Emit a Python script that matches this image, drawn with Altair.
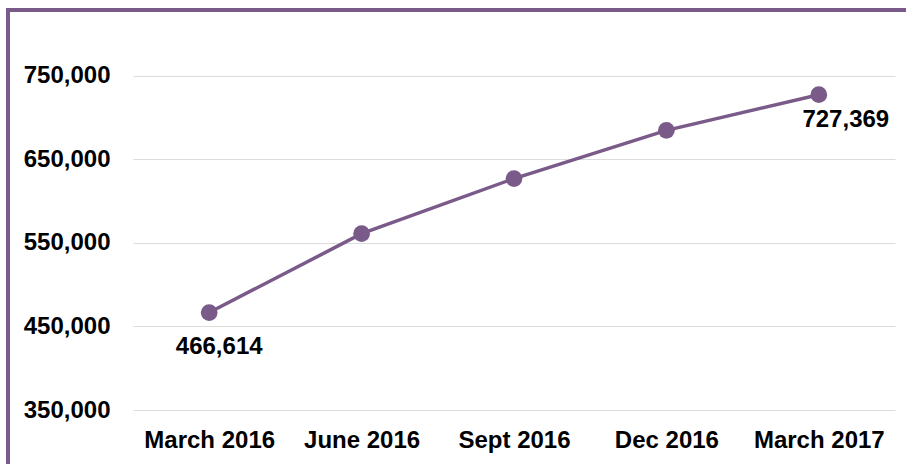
import altair as alt
import pandas as pd

periods = ["March 2016", "June 2016", "Sept 2016", "Dec 2016", "March 2017"]
values = [466614, 561000, 627000, 684700, 727369]
labels = ["466,614", "", "", "", "727,369"]
y_ticks = [350000, 450000, 550000, 650000, 750000]

df = pd.DataFrame({"period": periods, "value": values, "label": labels})

PURPLE = "#7A5A89"
FONT = "Liberation Sans"
FS = 24

x_enc = alt.X("period:N", sort=periods, title=None,
              scale=alt.Scale(type="point", padding=0.5),
              axis=alt.Axis(labelAngle=0, labelFontSize=FS, labelFontWeight="bold",
                            labelColor="#000000", labelFont=FONT, ticks=False,
                            domain=False, labelPadding=18, grid=False))
y_enc = alt.Y("value:Q", title=None,
              scale=alt.Scale(domain=[350000, 800000], nice=False, zero=False),
              axis=alt.Axis(values=y_ticks, format=",.0f", labelFontSize=FS,
                            labelFontWeight="bold", labelColor="#000000", labelFont=FONT,
                            ticks=False, domain=False, labelPadding=23,
                            grid=True, gridColor="#dcdcdc", gridWidth=1))

base = alt.Chart(df)

line = base.mark_line(color=PURPLE, strokeWidth=3.5).encode(x=x_enc, y=y_enc)
pts = base.mark_circle(color=PURPLE, opacity=1, size=280).encode(x=x_enc, y=y_enc)
txt_first = base.transform_filter(alt.datum.period == periods[0]).mark_text(
    font=FONT, fontSize=FS, fontWeight="bold", color="#000000", dx=10, dy=34
).encode(x=x_enc, y=y_enc, text="label:N")
txt_last = base.transform_filter(alt.datum.period == periods[-1]).mark_text(
    font=FONT, fontSize=FS, fontWeight="bold", color="#000000", dx=27, dy=25
).encode(x=x_enc, y=y_enc, text="label:N")

border_left = alt.Chart(df).mark_rule(color=PURPLE, strokeWidth=4).encode(
    x=alt.value(-125), y=alt.value(-26), y2=alt.value(440))
border_top = alt.Chart(df).mark_rule(color=PURPLE, strokeWidth=4).encode(
    x=alt.value(-127), x2=alt.value(780), y=alt.value(-24))

chart = alt.layer(line, pts, txt_first, txt_last, border_left, border_top).properties(
    width=762, height=376,
    autosize=alt.AutoSizeParams(type="none"),
    padding={"left": 133, "top": 34, "right": 11, "bottom": 54},
    background="#ffffff",
).configure_view(stroke=None)

chart.save("out.html", embed_options={"renderer": "svg", "actions": False})
